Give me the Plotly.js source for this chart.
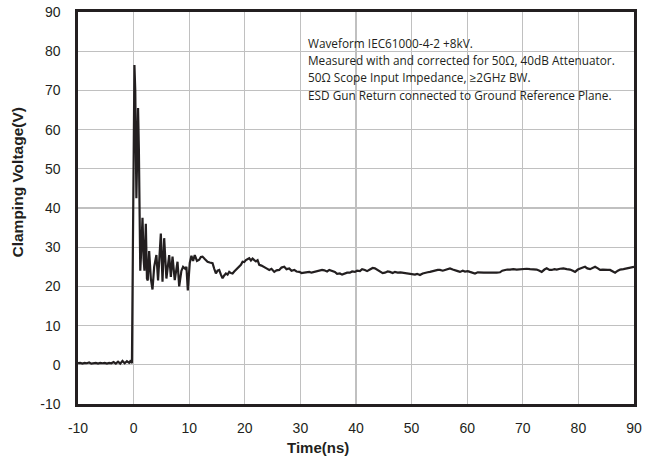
<!DOCTYPE html>
<html>
<head>
<meta charset="utf-8">
<script src="https://cdn.plot.ly/plotly-3.0.1.min.js"></script>
<style>html,body{margin:0;padding:0;background:#fff;}#chart{width:646px;height:462px;}</style>
</head>
<body>
<div id="chart"></div>
<script>
const timeNs = [-10,-9.6,-9.2,-8.8,-8.4,-8,-7.6,-7.2,-6.8,-6.4,-6,-5.6,-5.2,-4.8,-4.4,-4,-3.6,-3.2,-2.8,-2.4,-2,-1.6,-1.2,-0.8,-0.5,-0.3,
 -0.2,0.0,0.15,0.3,0.5,0.6,0.8,0.95,1.05,1.2,1.4,1.6,1.8,1.95,2.2,2.4,2.55,2.8,3.1,3.4,3.7,4.1,4.4,4.9,5.2,5.5,5.9,6.4,6.7,7.0,7.4,7.9,8.2,8.6,8.9,9.3,9.5,9.75,
 10.1,10.4,10.7,11.0,11.4,11.8,12.1,12.4,12.8,13.3,13.7,14.2,14.5,14.8,15.1,15.4,15.7,16.0,16.3,16.6,16.9,17.2,17.5,17.8,18.1,18.4,18.7,19.0,19.3,19.6,19.9,
 20.2,20.5,20.8,21.1,21.4,21.7,22.0,22.3,22.6,23.0,23.5,23.9,24.4,24.8,25.3,25.7,26.2,26.6,27.1,27.5,28.0,28.4,28.9,29.3,29.8,
 30.2,30.7,31.1,31.6,32.0,32.5,33.0,33.4,33.9,34.3,34.8,35.2,35.7,36.2,36.6,37.1,37.5,38.0,38.4,38.9,39.3,39.8,
 40.2,40.7,41.1,41.6,42.0,42.5,43.0,43.4,43.9,44.3,44.8,45.2,45.7,46.1,46.6,47.0,47.5,48.0,48.5,49.0,49.5,
 50.0,50.6,51.0,51.5,52.0,52.4,52.9,53.3,53.8,54.2,54.7,55.1,55.6,56.0,56.5,56.9,57.4,57.8,58.3,58.7,59.2,59.6,
 60.1,60.5,61.0,61.4,61.9,62.3,63.0,63.5,64.2,64.7,65.3,65.9,66.3,66.7,67.2,67.7,68.3,68.9,69.5,
 70.1,70.7,71.3,71.9,72.5,73.0,73.4,73.9,74.3,74.8,75.2,75.7,76.1,76.7,77.3,77.9,78.5,79.0,79.4,79.9,
 80.3,80.8,81.2,81.6,82.1,82.6,83.0,83.5,83.9,84.4,84.8,85.3,85.7,86.2,86.6,87.1,87.5,88.1,88.7,89.3,89.9,90];
const voltageV = [0.4,0.5,0.3,0.5,0.4,0.6,0.3,0.5,0.5,0.3,0.5,0.4,0.5,0.3,0.5,0.4,0.7,0.3,0.8,0.3,1.0,0.4,0.9,0.5,1.1,0.4,
 20,60,76.5,70,42.5,50,65.5,55,35,24,30,37.5,27,24,36,22,21.5,29,22,19.2,25,28,21.5,33.5,21.2,32.3,22,28,22.4,27.6,21.6,26.3,20,24,25,24.5,25,19,
 26,27.8,26.5,28,26.5,26.8,27.5,27.6,27,26.3,26.1,25.9,24.5,23.3,24,24.2,23,22.1,22.8,23.3,23,23.7,23.4,23.3,23.8,24.2,24.5,25,25.5,26.3,26.2,
 26.7,26.9,27.2,26.6,27.1,26.7,26.4,26.7,25.5,25.3,25,24.6,24.2,24.5,23.7,24.1,24.2,24.8,25,24.4,24.6,24.0,24.2,23.8,23.7,
 23.4,23.5,23.6,23.7,23.5,23.7,23.8,23.9,24.2,24.1,23.8,24.2,23.9,23.7,23.2,23.3,23.0,23.3,23.5,23.5,23.8,23.7,
 24.0,23.9,24.4,24.2,23.9,24.3,24.7,24.6,24.1,23.9,23.4,23.5,23.8,23.7,23.4,23.7,23.5,23.6,23.5,23.4,23.3,
 23.2,23.0,23.2,22.9,23.3,23.5,23.6,23.7,23.9,23.9,24.2,24.2,24.0,24.2,24.4,24.6,24.3,24.2,23.9,23.7,24.0,23.8,
 23.9,23.7,23.5,23.3,23.6,23.5,23.5,23.5,23.4,23.5,23.5,23.6,24.0,24.2,24.3,24.3,24.4,24.3,24.4,
 24.4,24.5,24.4,24.3,24.3,24.0,23.7,24.3,24.6,24.2,24.2,24.4,24.3,24.5,24.6,24.4,24.3,24.0,23.7,24.3,
 24.6,24.8,25.0,24.6,24.4,24.7,25.0,24.6,24.2,24.3,24.2,24.2,24.2,23.8,23.5,24.0,24.3,24.4,24.6,24.7,25.0,25.0];
const tickVals = [-10,0,10,20,30,40,50,60,70,80,90];
const tickText = ["-10","0","10","20","30","40","50","60","70","80","90"];
const noteLines = [
  "Waveform IEC61000-4-2 +8kV.",
  "Measured with and corrected for 50\u03A9, 40dB Attenuator.",
  "50\u03A9 Scope Input Impedance, \u22652GHz BW.",
  "ESD Gun Return connected to Ground Reference Plane."
];
const noteY = [0.9217, 0.8776, 0.8334, 0.7883];

const trace = {
  x: timeNs, y: voltageV, type: 'scatter', mode: 'lines',
  line: {color: '#231f20', width: 2.2}, hoverinfo: 'skip'
};
const axisCommon = {
  range: [-10, 90], tickvals: tickVals, ticktext: tickText, showgrid: true, gridcolor: '#c0c0c0', gridwidth: 1.3,
  showline: true, linecolor: '#231f20', linewidth: 2.6, mirror: true, zeroline: false,
  ticks: '', tickfont: {family: 'Liberation Sans, Arial', size: 14, color: '#231f20'}
};
const annotations = noteLines.map((t, i) => ({
  xref: 'paper', yref: 'paper', x: 0.41, y: noteY[i], xanchor: 'left', yanchor: 'middle',
  text: t, showarrow: false, font: {family: 'Open Sans', size: 11.8, color: '#231f20'}
}));
annotations.push({xref: 'paper', yref: 'paper', x: 0.4317, y: -0.1097, xanchor: 'center', yanchor: 'middle',
  text: '<b>Time(ns)</b>', showarrow: false, font: {family: 'Liberation Sans, Arial', size: 15, color: '#231f20'}});
annotations.push({xref: 'paper', yref: 'paper', x: -0.1088, y: 0.5638, xanchor: 'center', yanchor: 'middle', textangle: -90,
  text: '<b>Clamping Voltage(V)</b>', showarrow: false, font: {family: 'Liberation Sans, Arial', size: 15.5, color: '#231f20'}});

const layout = {
  width: 646, height: 462,
  margin: {l: 78, r: 12, t: 12, b: 58},
  paper_bgcolor: '#fff', plot_bgcolor: '#fff', showlegend: false,
  xaxis: Object.assign({}, axisCommon, {ticklabelstandoff: 10}),
  yaxis: Object.assign({}, axisCommon, {ticklabelstandoff: 12}),
  shapes: [{type: 'rect', xref: 'paper', yref: 'paper', x0: 0.3957, x1: 0.9856, y0: 0.7653, y1: 0.9617,
    fillcolor: '#fff', line: {width: 0}, layer: 'between'}],
  annotations: annotations
};
Plotly.newPlot('chart', [trace], layout, {displayModeBar: false, staticPlot: true});
</script>
</body>
</html>
